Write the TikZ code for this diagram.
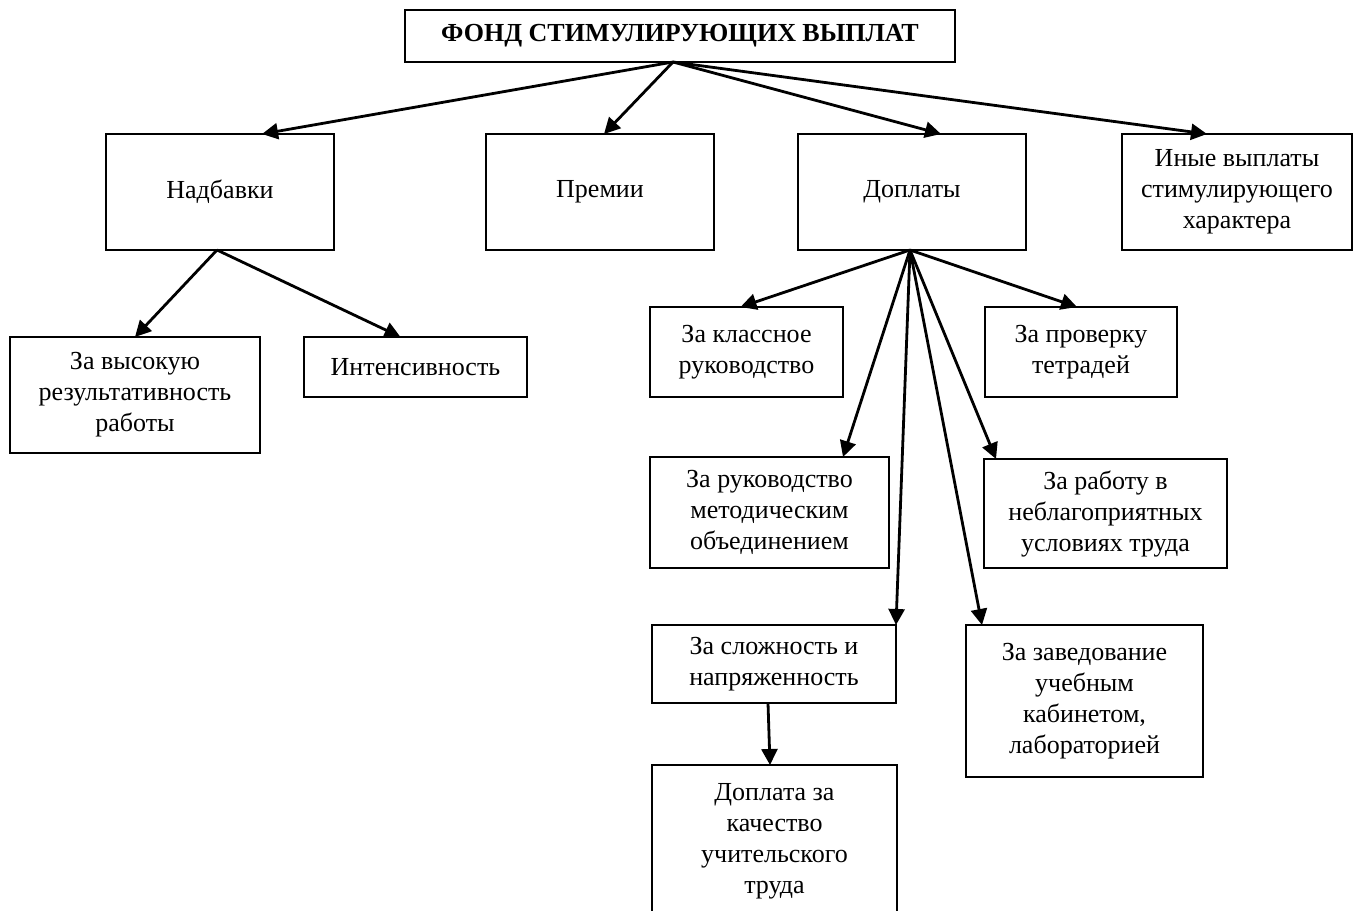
\documentclass[tikz,border=0pt]{standalone}
\usepackage{fontspec}
\setmainfont{Liberation Serif}
\usepackage{tikz}
\usetikzlibrary{arrows.meta}

\begin{document}
\begin{tikzpicture}[
  x=0.5pt, y=-0.5pt,
  font=\fontsize{13}{15.5}\selectfont,
  box/.style={draw=black,line width=1pt,align=center,inner sep=0pt,outer sep=0pt},
  head/.style={box,font=\fontsize{13}{15.5}\selectfont\bfseries},
  f/.style={-{Triangle[length=8pt,width=8pt]},draw=black,line width=1.4pt},
]
\useasboundingbox (0,0) rectangle (1354,910);
\clip (0,0) rectangle (1354,910);

% --- row 0: the fund -------------------------------------------------------
\node[head,minimum width=275pt,minimum height=26pt] (fund) at (680,36) {ФОНД СТИМУЛИРУЮЩИХ ВЫПЛАТ};

% --- row 1: four kinds of payment -------------------------------------------
\node[box,minimum width=114pt,minimum height=58pt] (nadb) at (220,192)  {Надбавки};
\node[box,minimum width=114pt,minimum height=58pt] (prem) at (600,192)  {Премии};
\node[box,minimum width=114pt,minimum height=58pt] (dopl) at (912,192)  {Доплаты};
\node[box,minimum width=115pt,minimum height=58pt] (inye) at (1237,192) {Иные выплаты\\стимулирующего\\характера};

% --- row 2: under the bonuses ------------------------------------------------
\node[box,minimum width=125pt,minimum height=58pt]   (vys)    at (135,395)   {За высокую\\результативность\\работы};
\node[box,minimum width=111.5pt,minimum height=30pt] (intens) at (415.5,367) {Интенсивность};

% --- rows 2-5: under the extra payments --------------------------------------
\node[box,minimum width=96.5pt,minimum height=45pt]  (klass)  at (746.5,352)  {За классное\\руководство};
\node[box,minimum width=96pt,minimum height=45pt]    (prov)   at (1081,352)   {За проверку\\тетрадей};
\node[box,minimum width=119.5pt,minimum height=55.5pt] (metod) at (769.5,512.5) {За руководство\\методическим\\объединением};
\node[box,minimum width=121.5pt,minimum height=54.5pt] (rabota) at (1105.5,513.5) {За работу в\\неблагоприятных\\условиях труда};
\node[box,minimum width=122pt,minimum height=39pt]   (slozh)  at (774,664)    {За сложность и\\напряженность};
\node[box,minimum width=118.5pt,minimum height=76pt] (zaved)  at (1084.5,701) {За заведование\\учебным\\кабинетом,\\лабораторией};
\node[box,minimum width=122.5pt,minimum height=76.5pt] (kach)  at (774.5,841.5) {Доплата за\\качество\\учительского\\труда};

% --- from the fund ---------------------------------------------------------
\draw[f] ([xshift=-3.5pt]fund.south) -- ([xshift=21pt]nadb.north);
\draw[f] ([xshift=-3.5pt]fund.south) -- ([xshift=2pt]prem.north);
\draw[f] ([xshift=-3.5pt]fund.south) -- ([xshift=14.5pt]dopl.north);
\draw[f] ([xshift=-3.5pt]fund.south) -- ([xshift=-15pt]inye.north);

% --- bonuses ---------------------------------------------------------------
\draw[f] ([xshift=-1.5pt]nadb.south) -- (vys.north);
\draw[f] ([xshift=-1.5pt]nadb.south) -- ([xshift=-7.5pt]intens.north);

% --- extra payments fan out ------------------------------------------------
\draw[f] ([xshift=-1pt]dopl.south) -- ([xshift=-3pt]klass.north);
\draw[f] ([xshift=-1pt]dopl.south) -- ([xshift=-2pt]prov.north);
\draw[f] ([xshift=-1pt]dopl.south) -- ([xshift=36.75pt]metod.north);
\draw[f] ([xshift=-1pt]dopl.south) -- ([xshift=-54.75pt]rabota.north);
\draw[f] ([xshift=-1pt]dopl.south) -- (slozh.north east);
\draw[f] ([xshift=-1pt]dopl.south) -- ([xshift=-51.25pt]zaved.north);
\draw[f] ([xshift=-3pt]slozh.south) -- ([xshift=-2.25pt]kach.north);
\end{tikzpicture}
\end{document}
